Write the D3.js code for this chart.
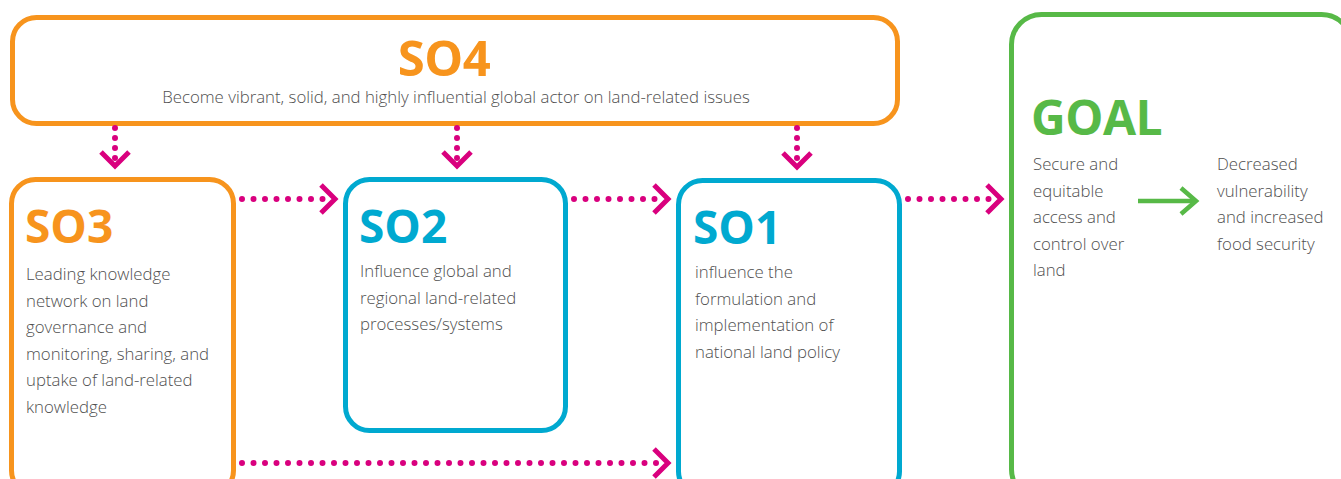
<!DOCTYPE html>
<html>
<head>
<meta charset="utf-8">
<script src="https://cdn.jsdelivr.net/npm/d3@7"></script>
<style>
  html, body { margin: 0; padding: 0; background: #fff; }
  svg { display: block; font-family: "Open Sans", "Noto Sans", sans-serif; }
</style>
</head>
<body>
<div id="chart"></div>
<script>
// Boxes of the strategy diagram (top to bottom, left to right).
const boxIds = ['SO4', 'SO3', 'SO2', 'SO1', 'GOAL'];
const boxKinds = { SO4: 'org', SO3: 'org', SO2: 'blue', SO1: 'blue', GOAL: 'green' };
const boxText = {
    SO4: ['Become vibrant, solid, and highly influential global actor on land-related issues'],
    SO3: ['Leading knowledge', 'network on land', 'governance and', 'monitoring, sharing, and', 'uptake of land-related', 'knowledge'],
    SO2: ['Influence global and', 'regional land-related', 'processes/systems'],
    SO1: ['influence the', 'formulation and', 'implementation of', 'national land policy'],
};
const goalFrom = ['Secure and', 'equitable', 'access and', 'control over', 'land'];
const goalTo = ['Decreased', 'vulnerability', 'and increased', 'food security'];

// Dotted arrows between boxes
const links = [
    ['SO4', 'SO3'], ['SO4', 'SO2'], ['SO4', 'SO1'],
    ['SO3', 'SO2'], ['SO2', 'SO1'], ['SO1', 'GOAL'],
    ['SO3', 'SO1', 'bottom'],
];

const W = 1341, H = 479;
const colors = { org: '#f7941d', blue: '#00a9d0', green: '#57b947', pink: '#d9007e', text: '#4f4f4f' };

// layout (outer edges of each box)
const layout = {
    SO4:  { x: 10,   y: 15,  w: 890, h: 111, r: 24 },
    SO3:  { x: 9,    y: 177, w: 227, h: 320, r: 24 },
    SO2:  { x: 343,  y: 177, w: 225, h: 256, r: 24 },
    SO1:  { x: 676,  y: 178, w: 226, h: 320, r: 24 },
    GOAL: { x: 1009, y: 12,  w: 345, h: 490, r: 30 },
};
const sw = 5;
const dropX = { SO3: 115, SO2: 457, SO1: 797 };

const svg = d3.select('#chart').append('svg').attr('width', W).attr('height', H);

// boxes
svg.append('g').selectAll('rect').data(boxIds).join('rect')
    .attr('x', d => layout[d].x + sw/2).attr('y', d => layout[d].y + sw/2)
    .attr('width', d => layout[d].w - sw).attr('height', d => layout[d].h - sw)
    .attr('rx', d => layout[d].r).attr('ry', d => layout[d].r)
    .attr('fill', 'none').attr('stroke', d => colors[boxKinds[d]]).attr('stroke-width', sw);

// dotted arrows
const arrows = svg.append('g').attr('fill', 'none').attr('stroke', colors.pink);
links.forEach(([a, b, where]) => {
    const A = layout[a], B = layout[b];
    let x1, y1, x2, y2, dir;
    if (a === 'SO4') {
        x1 = x2 = dropX[b];
        y1 = A.y + A.h + 2; y2 = B.y - 11; dir = 'down';
    } else {
        y1 = y2 = where === 'bottom' ? 463 : 199;
        x1 = A.x + A.w + 6; x2 = B.x - 8; dir = 'right';
    }
    const gap = dir === 'down' ? 10 : 11.5;
    arrows.append('line')
        .attr('x1', x1).attr('y1', y1)
        .attr('x2', dir === 'down' ? x2 : x2 - 8).attr('y2', dir === 'down' ? y2 - 6 : y2)
        .attr('stroke-width', 6).attr('stroke-linecap', 'round')
        .attr('stroke-dasharray', `0 ${gap}`);
    const s = 14;
    const chev = dir === 'down'
        ? [[x2 - s, y2 - s], [x2, y2], [x2 + s, y2 - s]]
        : [[x2 - s, y2 - s], [x2, y2], [x2 - s, y2 + s]];
    arrows.append('path').attr('d', d3.line()(chev))
        .attr('stroke-width', 5).attr('stroke-linejoin', 'miter');
});

// titles
const titles = {
    SO4: { x: 444, y: 76, anchor: 'middle', size: 49, ls: -0.5 },
    SO3: { x: 25, y: 243, anchor: 'start', size: 46, ls: 0 },
    SO2: { x: 359, y: 243, anchor: 'start', size: 46, ls: 0 },
    SO1: { x: 693, y: 244, anchor: 'start', size: 46, ls: 0 },
    GOAL: { x: 1031, y: 135, anchor: 'start', size: 48, ls: -0.5 },
};
svg.append('g').selectAll('text').data(boxIds).join('text')
    .attr('x', d => titles[d].x).attr('y', d => titles[d].y)
    .attr('text-anchor', d => titles[d].anchor)
    .attr('font-size', d => titles[d].size).attr('font-weight', 700)
    .attr('letter-spacing', d => titles[d].ls)
    .attr('fill', d => colors[boxKinds[d]]).text(d => d);

// body text
const lineH = 26.5;
const bodyPos = {
    SO4: { x: 456, y: 103, anchor: 'middle' },
    SO3: { x: 26, y: 280, anchor: 'start' },
    SO2: { x: 360, y: 277, anchor: 'start' },
    SO1: { x: 695, y: 278, anchor: 'start' },
};
const addLines = (lines, pos) => {
    const t = svg.append('text')
        .attr('text-anchor', pos.anchor)
        .attr('font-size', 16.8).attr('font-weight', 300).attr('fill', colors.text);
    t.selectAll('tspan').data(lines).join('tspan')
        .attr('x', pos.x).attr('y', (d, i) => pos.y + i * lineH).text(d => d);
};
Object.keys(bodyPos).forEach(k => addLines(boxText[k], bodyPos[k]));
addLines(goalFrom, { x: 1033, y: 170, anchor: 'start' });
addLines(goalTo, { x: 1217, y: 170, anchor: 'start' });

// green arrow inside GOAL
svg.append('path')
    .attr('d', d3.line()([[1138, 201], [1196, 201]]))
    .attr('stroke', colors.green).attr('stroke-width', 4.5);
svg.append('path')
    .attr('d', d3.line()([[1181, 188], [1196, 201], [1181, 214]]))
    .attr('fill', 'none').attr('stroke', colors.green).attr('stroke-width', 4.5);
</script>
</body>
</html>
